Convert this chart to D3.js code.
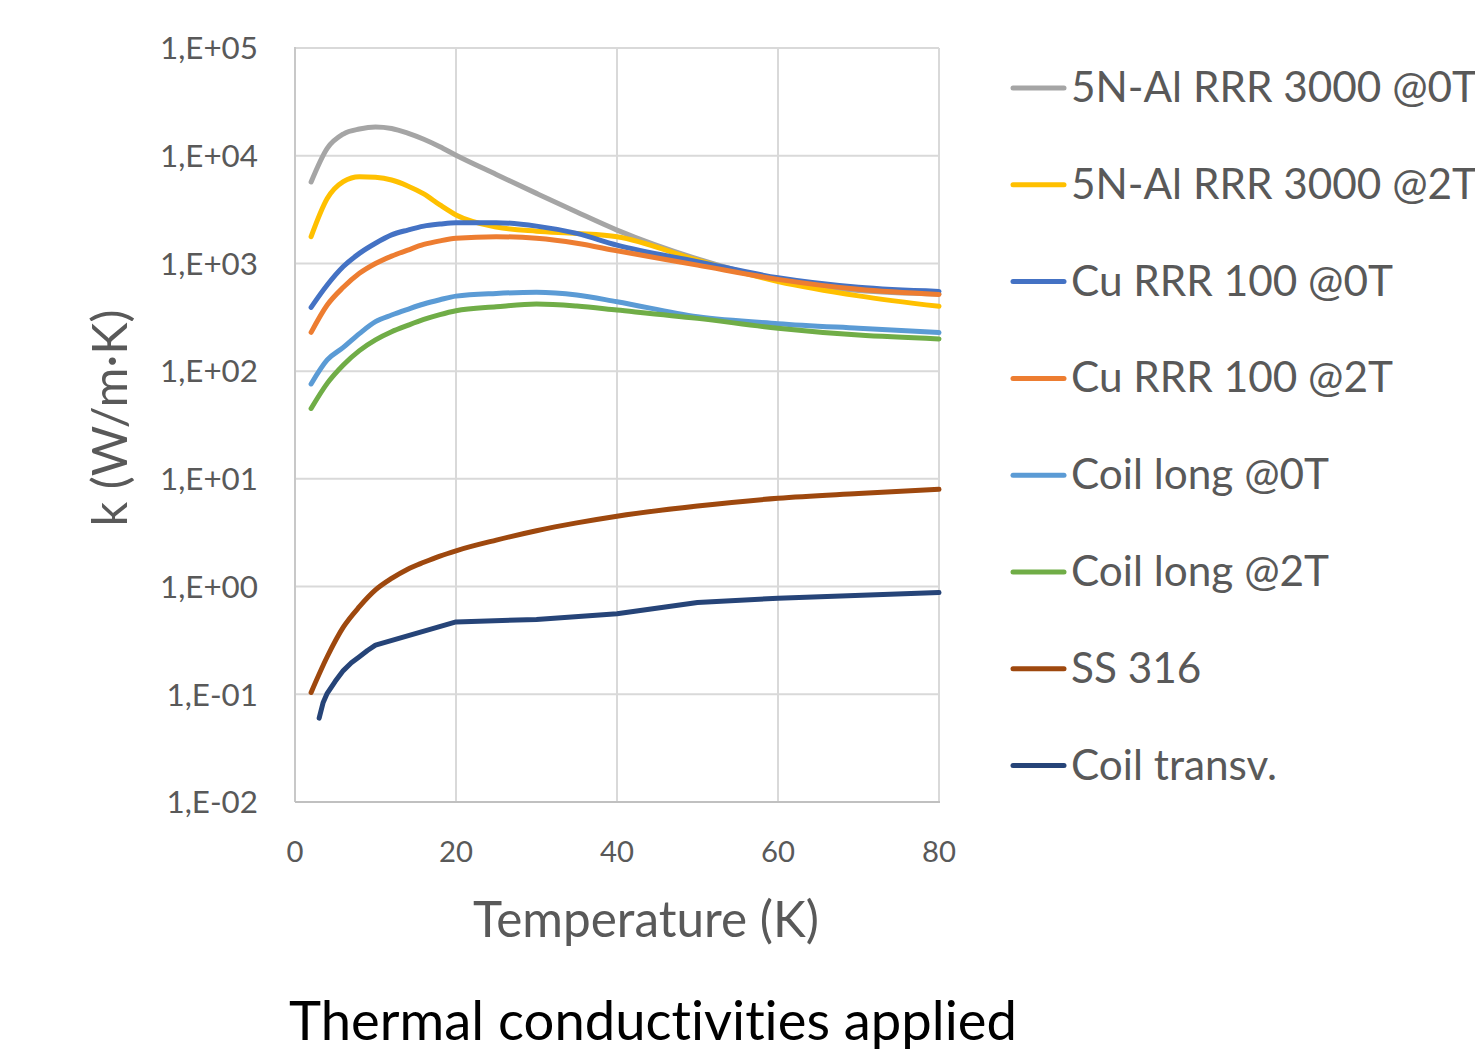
<!DOCTYPE html>
<html>
<head>
<meta charset="utf-8">
<script src="https://cdn.jsdelivr.net/npm/d3@7"></script>
<style>
  body { margin: 0; background: #fff; }
  svg { display: block; font-family: Lato, "Open Sans", sans-serif; font-variant-ligatures: none; }
</style>
</head>
<body>
<svg id="chart" width="1475" height="1052"></svg>
<script>
// temperatures (K) shared by the smooth series
const temps = [2, 4, 6, 8, 10, 12, 14, 16, 18, 20, 25, 30, 35, 40, 50, 60, 70, 80];

// thermal conductivity k (W/m·K)
const al0T = [5700, 11700, 15900, 17700, 18500, 17900, 16200, 14200, 12100, 10100, 6700, 4470, 3000, 2040, 1100, 700, 560, 520];
const al2T = [1770, 4000, 5740, 6380, 6300, 5950, 5240, 4420, 3490, 2820, 2180, 1990, 1900, 1770, 1070, 680, 500, 400];
const cu0T = [391, 630, 935, 1240, 1540, 1840, 2040, 2220, 2320, 2390, 2390, 2220, 1900, 1480, 1040, 735, 600, 550];
const cu2T = [229, 411, 600, 810, 1000, 1170, 1330, 1500, 1620, 1710, 1770, 1710, 1540, 1310, 965, 711, 575, 516];
const coilLong0T = [76, 127, 166, 223, 288, 332, 375, 420, 460, 497, 527, 540, 510, 441, 320, 276, 250, 228];
const coilLong2T = [45, 77, 114, 155, 195, 232, 266, 302, 335, 364, 396, 420, 402, 369, 309, 250, 216, 199];
const ss316 = [0.104, 0.223, 0.42, 0.65, 0.93, 1.19, 1.45, 1.68, 1.92, 2.15, 2.7, 3.3, 3.9, 4.5, 5.6, 6.6, 7.3, 8.0];

// coil transverse has its own temperature points
const transvTemps = [3, 3.5, 4, 5, 6, 7, 8, 9, 10, 20, 30, 40, 50, 60, 80];
const coilTransv = [0.06, 0.084, 0.102, 0.132, 0.166, 0.196, 0.223, 0.255, 0.286, 0.47, 0.495, 0.56, 0.71, 0.78, 0.88];

const seriesNames = ["5N-Al RRR 3000 @0T", "5N-Al RRR 3000 @2T", "Cu RRR 100 @0T", "Cu RRR 100 @2T",
  "Coil long @0T", "Coil long @2T", "SS 316", "Coil transv."];
const seriesColors = ["#A5A5A5", "#FFC000", "#4472C4", "#ED7D31", "#5B9BD5", "#70AD47", "#9E480E", "#264478"];

const xTicks = [0, 20, 40, 60, 80];
const yTicks = [1e-2, 1e-1, 1e0, 1e1, 1e2, 1e3, 1e4, 1e5];

const TEXT = "#595959";

const series = [al0T, al2T, cu0T, cu2T, coilLong0T, coilLong2T, ss316].map((vals, i) => ({
  name: seriesNames[i],
  color: seriesColors[i],
  smooth: true,
  points: vals.map((v, j) => [temps[j], v]),
}));
series.push({
  name: seriesNames[7],
  color: seriesColors[7],
  smooth: false,
  points: coilTransv.map((v, j) => [transvTemps[j], v]),
});

const svg = d3.select("#chart");

const plot = { left: 295, right: 939, top: 48, bottom: 802 };

const x = d3.scaleLinear().domain([0, 80]).range([plot.left, plot.right]);
const y = d3.scaleLog().domain([1e-2, 1e5]).range([plot.bottom, plot.top]);

// scale a text's font size so it spans the wanted width
function fitWidth(sel, width) {
  sel.each(function () {
    const w = this.getComputedTextLength();
    const fs = parseFloat(this.getAttribute("font-size"));
    this.setAttribute("font-size", (fs * width) / w);
  });
}

function yLabel(v) {
  const e = Math.round(Math.log10(v));
  return "1,E" + (e < 0 ? "-" : "+") + String(Math.abs(e)).padStart(2, "0");
}

// gridlines
const grid = svg.append("g");
grid.selectAll("line.h")
  .data(yTicks.slice(1))
  .join("line")
  .attr("x1", plot.left).attr("x2", plot.right)
  .attr("y1", (d) => y(d)).attr("y2", (d) => y(d))
  .attr("stroke", "#D9D9D9").attr("stroke-width", 2);
grid.selectAll("line.v")
  .data(xTicks.slice(1))
  .join("line")
  .attr("x1", (d) => x(d)).attr("x2", (d) => x(d))
  .attr("y1", plot.top).attr("y2", plot.bottom)
  .attr("stroke", "#D9D9D9").attr("stroke-width", 2);

// axes lines
svg.append("line")
  .attr("x1", plot.left).attr("x2", plot.left)
  .attr("y1", plot.top - 1).attr("y2", plot.bottom)
  .attr("stroke", "#C8C8C8").attr("stroke-width", 2);
svg.append("line")
  .attr("x1", plot.left).attr("x2", plot.right + 1)
  .attr("y1", plot.bottom).attr("y2", plot.bottom)
  .attr("stroke", "#C0C0C0").attr("stroke-width", 2);

// y tick labels
const yt = svg.append("g").selectAll("text")
  .data(yTicks)
  .join("text")
  .attr("font-size", 30)
  .attr("fill", TEXT)
  .attr("text-anchor", "end")
  .text(yLabel);
fitWidth(yt.filter((d) => d === 1e5), 98);
const yFs = +yt.filter((d) => d === 1e5).attr("font-size");
yt.attr("font-size", yFs)
  .attr("x", 258)
  .attr("y", (d) => y(d) + yFs * 0.36);

// x tick labels
const xt = svg.append("g").selectAll("text")
  .data(xTicks)
  .join("text")
  .attr("font-size", 30)
  .attr("fill", TEXT)
  .attr("text-anchor", "middle")
  .text((d) => d);
fitWidth(xt.filter((d) => d === 20), 34);
const xFs = +xt.filter((d) => d === 20).attr("font-size");
xt.attr("font-size", xFs)
  .attr("x", (d) => x(d))
  .attr("y", 862);

// axis titles
svg.append("text")
  .attr("font-size", 40)
  .attr("fill", TEXT)
  .attr("text-anchor", "middle")
  .attr("x", 646)
  .attr("y", 937)
  .text("Temperature (K)")
  .call(fitWidth, 346);

svg.append("text")
  .attr("font-size", 40)
  .attr("fill", TEXT)
  .attr("text-anchor", "middle")
  .attr("transform", "translate(127,418) rotate(-90)")
  .text("k (W/m·K)")
  .call(fitWidth, 217);

// series
const line = (smooth) => d3.line()
  .x((d) => x(d[0]))
  .y((d) => y(d[1]))
  .curve(smooth ? d3.curveMonotoneX : d3.curveLinear);

svg.append("g")
  .selectAll("path")
  .data(series)
  .join("path")
  .attr("d", (d) => line(d.smooth)(d.points))
  .attr("fill", "none")
  .attr("stroke", (d) => d.color)
  .attr("stroke-width", 5)
  .attr("stroke-linecap", "round")
  .attr("stroke-linejoin", "round");

// legend
const legend = svg.append("g")
  .selectAll("g")
  .data(series)
  .join("g")
  .attr("transform", (d, i) => `translate(0,${88 + i * 96.8})`);
legend.append("line")
  .attr("x1", 1013).attr("x2", 1064)
  .attr("stroke", (d) => d.color)
  .attr("stroke-width", 5)
  .attr("stroke-linecap", "round");
const lt = legend.append("text")
  .attr("x", 1071)
  .attr("font-size", 40)
  .attr("fill", TEXT)
  .text((d) => d.name);
fitWidth(lt.filter((d) => d.name === "Cu RRR 100 @0T"), 322);
const lFs = +lt.filter((d) => d.name === "Cu RRR 100 @0T").attr("font-size");
lt.attr("font-size", lFs).attr("y", 14);

// caption
svg.append("text")
  .attr("font-size", 50)
  .attr("fill", "#000")
  .attr("text-anchor", "middle")
  .attr("x", 653)
  .attr("y", 1040)
  .text("Thermal conductivities applied")
  .call(fitWidth, 728);
</script>
</body>
</html>
